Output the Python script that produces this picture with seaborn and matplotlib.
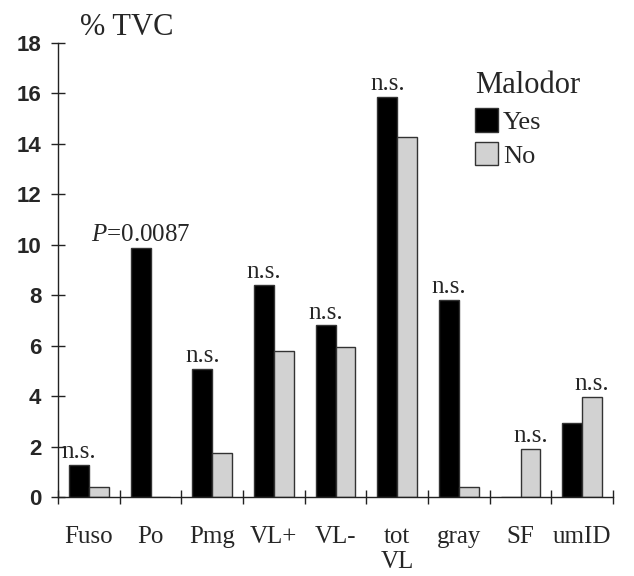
import numpy as np
import pandas as pd
import matplotlib
matplotlib.use("Agg")
import matplotlib.pyplot as plt
import seaborn as sns

# Data (% TVC)
categories = ["Fuso", "Po", "Pmg", "VL+", "VL-", "tot\nVL", "gray", "SF", "umID"]
malodor_yes = [1.27, 9.88, 5.08, 8.4, 6.8, 15.87, 7.8, 0.0, 2.94]
malodor_no = [0.4, 0.0, 1.73, 5.8, 5.96, 14.28, 0.4, 1.9, 3.97]
significance = ["n.s.", r"$\mathit{P}$=0.0087", "n.s.", "n.s.", "n.s.", "n.s.", "n.s.", "n.s.", "n.s."]
groups = ["Yes", "No"]

df = pd.DataFrame({
    "category": categories * 2,
    "Malodor": ["Yes"] * len(categories) + ["No"] * len(categories),
    "value": malodor_yes + malodor_no,
})

sns.set_style("white")
plt.rcParams["font.family"] = ["Liberation Serif", "DejaVu Serif"]
plt.rcParams["mathtext.fontset"] = "custom"
plt.rcParams["mathtext.rm"] = "Liberation Serif"
plt.rcParams["mathtext.it"] = "Liberation Serif:italic"

fig = plt.figure(figsize=(6.34, 5.76), dpi=100)
ax = fig.add_axes([58 / 634, 1 - 497 / 576, (613 - 58) / 634, (497 - 43) / 576])

sns.barplot(data=df, x="category", y="value", hue="Malodor", hue_order=groups,
            palette={"Yes": "black", "No": "#d2d2d2"}, width=0.64, gap=0,
            edgecolor="#333333", linewidth=1, ax=ax)

# significance labels over the taller bar of each pair
yes_bars, no_bars = ax.containers[0], ax.containers[1]
for i, lab in enumerate(significance):
    bar = yes_bars[i] if malodor_yes[i] >= malodor_no[i] else no_bars[i]
    xc = bar.get_x() + bar.get_width() / 2
    ax.annotate(lab, (xc, bar.get_height()), xytext=(0, 5), textcoords="offset points",
                ha="center", va="baseline", fontsize=18)

ax.set_xlim(-0.5, len(categories) - 0.5)
ax.set_ylim(0, 18)
ax.set_yticks(np.arange(0, 19, 2))
ax.set_xticks(np.arange(-0.5, len(categories), 1))
ax.set_xticklabels([])
ax.set_xticks(np.arange(len(categories)), minor=True)
ax.set_xticklabels(categories, minor=True, fontsize=18, linespacing=1.15)
ax.tick_params(bottom=True, left=True, which="major")
ax.tick_params(axis="x", which="minor", bottom=True, length=0, pad=21)
ax.tick_params(axis="both", which="major", direction="inout", length=10, width=1, color="#222222")
ax.tick_params(axis="y", pad=7)
for t in ax.get_yticklabels():
    t.set_fontfamily("Liberation Sans")
    t.set_fontweight("bold")
    t.set_fontsize(16)

for s in ["top", "right"]:
    ax.spines[s].set_visible(False)
for s in ["left", "bottom"]:
    ax.spines[s].set_color("#222222")
    ax.spines[s].set_linewidth(1)
ax.set_xlabel("")
ax.set_ylabel("")

fig.text(80 / 634, 1 - 35 / 576, "% TVC", fontsize=22, va="baseline", ha="left")

leg = ax.legend(title="Malodor", frameon=False, loc="upper left",
                bbox_to_anchor=(462 / 634, 1 - 58 / 576), bbox_transform=fig.transFigure,
                fontsize=19, title_fontsize=22, handlelength=0.85, handleheight=1.0,
                handletextpad=0.2, labelspacing=0.3, borderpad=0, alignment="left")

fig.savefig("out.png", dpi=100)
